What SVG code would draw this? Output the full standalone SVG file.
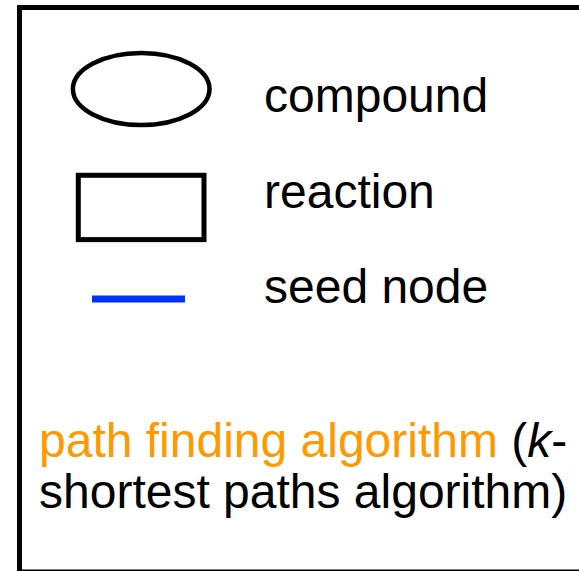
<svg xmlns="http://www.w3.org/2000/svg" width="579" height="571" viewBox="0 0 579 571">
<style>
.t{font-family:"Liberation Sans",Arial,sans-serif;font-size:48px;fill:#000}
.o{fill:#ff9900}
</style>
<rect x="0" y="0" width="579" height="571" fill="#fff"/>
<rect x="19.5" y="7.5" width="570" height="564.5" fill="none" stroke="#000" stroke-width="5"/>
<g id="compound">
<ellipse cx="141.2" cy="89" rx="68.3" ry="36" fill="none" stroke="#000" stroke-width="4.5"/>
<text class="t" x="264" y="112">compound</text>
</g>
<g id="reaction">
<rect x="78.3" y="175.3" width="125.7" height="64.3" fill="none" stroke="#000" stroke-width="5"/>
<text class="t" x="264" y="208">reaction</text>
</g>
<g id="seed">
<rect x="92" y="295.5" width="93" height="7" fill="#0033ff"/>
<text class="t" x="264" y="303">seed node</text>
</g>
<g id="caption">
<text class="t" x="39" y="457"><tspan class="o">path finding algorithm</tspan> (<tspan font-style="italic">k</tspan>-</text>
<text class="t" x="39" y="508">shortest paths algorithm)</text>
</g>
</svg>
